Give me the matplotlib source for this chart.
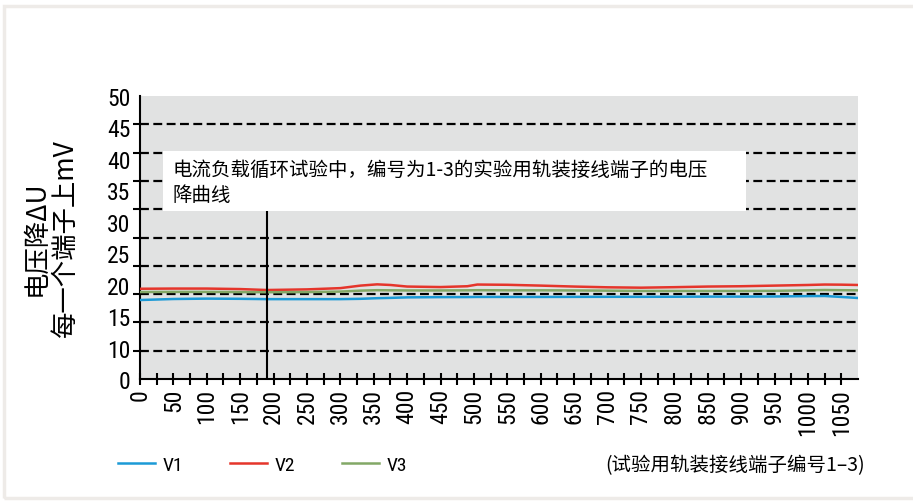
import numpy as np
import matplotlib
matplotlib.use("Agg")
from matplotlib import pyplot as plt
from matplotlib.patches import Rectangle

# test points (cycle number) and voltage drop per terminal, mV
cycles = [0, 50, 100, 150, 190, 250, 300, 330, 355, 375, 400, 450, 490, 505, 550,
          600, 650, 700, 750, 800, 850, 900, 950, 1000, 1025, 1050, 1075]
v1 = [17.56, 17.72, 17.78, 17.75, 17.70, 17.70, 17.70, 17.75, 17.85, 17.90, 17.98, 18.02, 18.03, 18.05,
      18.05, 18.05, 18.06, 18.07, 18.07, 18.08, 18.10, 18.10, 18.12, 18.18, 18.20, 18.05, 17.88]
v2 = [19.35, 19.38, 19.38, 19.30, 19.15, 19.25, 19.45, 19.85, 20.05, 19.95, 19.70, 19.62, 19.75, 20.02,
      19.98, 19.85, 19.70, 19.58, 19.52, 19.60, 19.70, 19.75, 19.85, 19.95, 20.02, 20.00, 19.95]
v3 = [18.83, 18.85, 18.85, 18.82, 18.80, 18.82, 18.90, 19.05, 19.12, 19.10, 19.08, 19.08, 19.10, 19.12,
      19.10, 19.10, 19.08, 19.05, 19.00, 19.00, 19.00, 19.00, 19.02, 19.10, 19.15, 19.12, 19.10]
series_names = ['V1', 'V2', 'V3']
y_labels = [0, 10, 15, 20, 25, 30, 35, 40, 45, 50]
x_ticks = list(range(0, 1051, 50))
marker_cycle = 190

colors = ['#1c9ad6', '#e5352b', '#82a866']
narrow = ['Roboto Condensed', 'Liberation Sans Narrow', 'Roboto', 'DejaVu Sans']
cjk = ['Noto Sans CJK SC', 'DejaVu Sans']

# y axis labels are evenly spaced on the page
lab_pos = np.arange(len(y_labels))


def fwd(v):
    return np.interp(v, y_labels, lab_pos)


def inv(p):
    return np.interp(p, lab_pos, y_labels)


fig = plt.figure(figsize=(9.13, 5.02), dpi=100)
ax = fig.add_axes([140 / 913, 1 - 380 / 502, 718 / 913, 283 / 502])
ax.set_facecolor('#e1e2e2')
ax.set_yscale('function', functions=(fwd, inv))
ax.set_xlim(0, 1075)
ax.set_ylim(0, 50)

# dashed grid: ten equal divisions of the plot height
grid_vals = inv(np.arange(1, 10) * 0.9)
for g in grid_vals:
    ax.axhline(g, color='black', lw=1.6, ls=(0, (4, 2)), zorder=1)

for vals, name, c in zip([v1, v2, v3], series_names, colors):
    ax.plot(cycles, vals, color=c, lw=1.8, label=name, zorder=3, solid_joinstyle='round')

ax.axvline(marker_cycle, ymin=0, ymax=0.6, color='black', lw=1.5, zorder=3)

ax.add_patch(Rectangle((0.032, 0.594), 0.812, 0.212, transform=ax.transAxes,
                       facecolor='white', edgecolor='none', zorder=4))
ax.text(0.045, 0.696, '电流负载循环试验中，编号为1-3的实验用轨装接线端子的电压\n降曲线',
        transform=ax.transAxes, ha='left', va='center', fontsize=14, family=cjk,
        linespacing=1.3, zorder=5)

for s in ['top', 'right']:
    ax.spines[s].set_visible(False)
for s in ['left', 'bottom']:
    ax.spines[s].set_linewidth(1.5)

ax.set_yticks(y_labels)
ax.set_yticklabels([str(v) for v in y_labels], family=narrow, fontsize=17)
ax.set_yticks(inv(np.arange(0, 11) * 0.9), minor=True)
ax.tick_params(axis='y', which='major', length=0, pad=7)
ax.tick_params(axis='y', which='minor', length=5, width=1.5, direction='out')

ax.set_xticks(x_ticks)
ax.set_xticklabels([str(v) for v in x_ticks], rotation=90, family=narrow, fontsize=17)
ax.set_xticks(np.arange(25, 1075, 50), minor=True)
ax.tick_params(axis='x', which='both', length=9, width=1.5, direction='inout', pad=2)

ax.set_ylabel('电压降ΔU\n每一个端子上mV', family=cjk, fontsize=19, linespacing=1.12, labelpad=20)

fig.legend(loc='center left', bbox_to_anchor=(118 / 913, 1 - 466 / 502), ncol=3, frameon=False,
           borderpad=0, borderaxespad=0, handlelength=1.9, columnspacing=2.4, handletextpad=0.4,
           prop={'family': narrow, 'size': 14})
fig.text(605 / 913, 1 - 466 / 502, '(试验用轨装接线端子编号1–3)', ha='left', va='center',
         family=cjk, fontsize=14)

fig.patches.append(Rectangle((4 / 913, 3 / 502), 1.0, 1 - 10 / 502, transform=fig.transFigure,
                             fill=False, edgecolor='#eeebe8', lw=2.5))

fig.savefig('out.png', dpi=100)
